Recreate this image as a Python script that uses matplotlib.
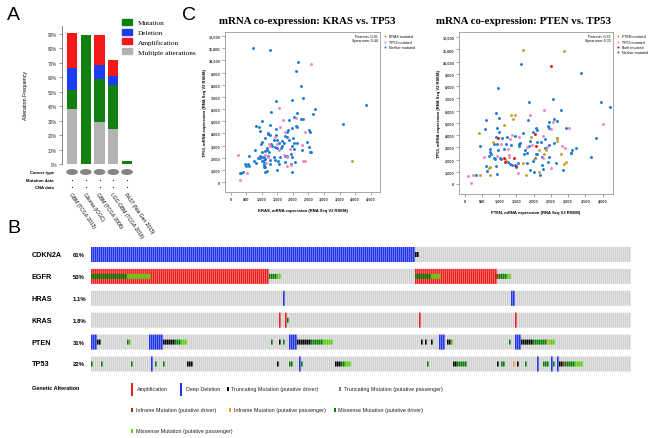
import numpy as np
import matplotlib
matplotlib.use('Agg')
import matplotlib.pyplot as plt
from matplotlib.patches import Ellipse, Rectangle, Patch

W, H = 648, 439
SANS = 'Liberation Sans'
SERIF = 'Liberation Serif'

# ---- panel A: alteration frequency per study
studies = ['GBM (TCGA 2013)', 'Glioma (ICGC)', 'GBM (TCGA 2008)',
           'LGG-GBM (TCGA 2016)', 'PAST (Nat Gen 2015)']
multiple = [38, 0, 29, 24, 0]
mutation = [13.5, 89.5, 29.6, 30.5, 1.8]
deletion = [14.7, 0, 10.2, 6.5, 0]
amplification = [24.5, 0, 20.7, 11, 0]

# ---- panel C: mRNA co-expression
kras_neither_x = [730, 1260, 2160, 2100, 2260, 2330, 1960, 1470, 1300, 4360, 3600, 2700, 2650, 2120,
                  2050, 2250, 2330, 1880, 2100, 2140, 1980, 1020, 810, 910, 950, 1470, 1260, 1280,
                  1470, 2530, 1860, 1750, 1820, 1200, 1210, 1110, 1660, 1500, 1890, 2120, 1730, 2440,
                  1010, 980, 1300, 1340, 1420, 1660, 1630, 1500, 1170, 1170, 1110, 1240, 780, 1020,
                  950, 930, 1010, 1060, 880, 1060, 1110, 1020, 1200, 590, 750, 810, 500, 570, 590,
                  450, 300, 330, 410, 1070, 1080, 1120, 1080, 1110, 1160, 1500, 1580, 1400, 1430,
                  1760, 1820, 1950, 1970, 1750, 1950, 1980, 2070, 2290, 2530, 2550, 2580, 2540, 2050,
                  1810, 1970, 2050, 1520, 1560, 2010, 1540, 1410, 1280, 1260]
kras_neither_y = [11000, 10850, 9860, 9100, 7860, 6930, 6710, 6680, 5780, 6330, 4790, 6000, 5620, 5640,
                  5320, 5200, 5150, 5120, 4630, 4520, 4470, 4990, 4580, 4490, 4190, 4380, 4680, 3860,
                  3860, 4270, 4250, 3780, 3670, 3920, 4000, 3620, 3400, 3480, 3450, 3200, 3180, 3260,
                  3320, 3120, 3150, 2930, 2850, 2990, 2790, 2820, 2790, 2600, 2550, 2440, 2630, 2470,
                  2110, 2000, 2030, 2050, 1950, 1840, 1890, 1750, 2160, 2110, 1750, 1530, 1320, 1450,
                  1320, 1510, 770, 710, 790, 1530, 1370, 1210, 1210, 790, 930, 1010, 2030, 2030, 1810,
                  2160, 2110, 2270, 2050, 1620, 1510, 790, 1670, 2600, 2880, 2490, 2490, 4080, 3230,
                  4080, 2990, 2710, 1750, 1480, 3620, 3180, 3480, 1480, 1840]
kras_tp53_x = [2590, 1540, 1690, 2090, 1590, 1420, 1270, 1240, 1500, 1540, 1900, 1730, 2300, 2330,
               2400, 2380, 1820, 1200, 240, 540, 290, 1150, 1940, 1810, 1760, 1120]
kras_tp53_y = [9670, 6050, 5120, 5290, 4550, 3730, 2990, 3150, 3120, 2600, 2710, 2220, 3010, 1700,
               1750, 4140, 2030, 2080, 2220, 710, 160, 1530, 1400, 1340, 4110, 2190]
kras_kras_x = [3910]
kras_kras_y = [1730]

pten_pten_x = [1700, 2890, 425, 1330, 1460, 1400, 1140, 810, 740, 710, 730, 1210, 1170, 1790, 2160,
               1920, 2150, 2310, 2360, 2670, 2690, 2780, 2930, 2870, 440, 2000, 1690]
pten_pten_y = [10990, 10850, 4150, 5620, 5670, 5290, 4830, 3460, 1390, 1340, 760, 1850, 2050, 740, 980,
               3850, 2780, 2450, 2780, 3520, 3790, 2450, 1770, 1610, 760, 2020, 1750]
pten_both_x = [2500, 2040, 2070, 980, 1150, 1420, 1490, 1180]
pten_both_y = [9680, 4120, 3110, 3740, 2150, 2130, 1500, 1770]
pten_tp53_x = [4020, 3010, 2300, 1880, 1300, 1270, 1380, 1050, 940, 550, 1280, 1290, 1560, 110, 170,
               240, 2270, 2400, 2510, 2550, 2810, 2900, 2510, 1940, 1820, 1570, 2280]
pten_tp53_y = [4940, 4550, 6080, 5620, 3680, 2840, 3980, 3270, 2290, 2210, 2370, 2240, 900, 680, 110,
               710, 2150, 3000, 4500, 5100, 3080, 2970, 1340, 3190, 3000, 3820, 3950]
pten_neither_x = [1620, 3380, 960, 1860, 2550, 3950, 4210, 2780, 900, 1000, 620, 1830, 2590, 2670, 2450,
                  2410, 2060, 2100, 1980, 2430, 930, 990, 900, 1090, 1230, 1470, 1680, 2940, 3230,
                  3100, 3800, 3670, 3090, 2670, 2580, 2440, 2330, 2330, 2210, 2090, 1890, 1860, 1760,
                  1820, 1720, 1600, 1570, 1570, 1350, 1200, 950, 850, 740, 720, 770, 700, 850, 880,
                  1020, 1040, 1260, 1320, 1380, 1470, 1490, 1540, 1800, 1880, 1990, 2110, 2250, 2050,
                  2070, 2240, 2270, 2640, 2840, 3070, 630, 650, 900, 930, 330, 430, 600, 970, 1150,
                  2000, 2170, 2420, 2440]
pten_neither_y = [9840, 9110, 7850, 6680, 6930, 6710, 6330, 6030, 5780, 5370, 5260, 5210, 5290, 5130,
                  5040, 4770, 4550, 4420, 4230, 4580, 4580, 4230, 3820, 3760, 3870, 3950, 4200, 4580,
                  2970, 2810, 3740, 2210, 2510, 3790, 3350, 3160, 2970, 3680, 3410, 3440, 3550, 3140,
                  2750, 2540, 2450, 3350, 3110, 3300, 3220, 3270, 3270, 3270, 2840, 2650, 2480, 2290,
                  2100, 2050, 2150, 2020, 1770, 1640, 1580, 1580, 1390, 1750, 1750, 1120, 1850, 2450,
                  2240, 2150, 2450, 1530, 1230, 1720, 1170, 2540, 1500, 1060, 1500, 790, 710, 3140,
                  4500, 2810, 2860, 950, 760, 1770, 2210]

# ---- panel B: oncoprint, runs of samples (start, end, alteration)
n_samples = 270
genes = ['CDKN2A', 'EGFR', 'HRAS', 'KRAS', 'PTEN', 'TP53']
gene_pct = ['61%', '53%', '1.1%', '1.8%', '31%', '22%']
cdkn2a = [(0, 162, 'del'), (162, 164, 'trunc')]
egfr = [(0, 89, 'amp'), (162, 203, 'amp'), (0, 18, 'mis'), (18, 30, 'mis_p'), (89, 93, 'mis'),
        (93, 95, 'mis_p'), (162, 170, 'mis'), (170, 175, 'mis_p'), (202, 204, 'inframe'),
        (204, 208, 'mis'), (208, 210, 'mis_p')]
hras = [(96, 97, 'del'), (210, 212, 'del')]
kras = [(94, 95, 'amp'), (97, 98, 'amp'), (98, 99, 'mis'), (164, 165, 'amp'), (212, 213, 'amp')]
pten = [(0, 3, 'del'), (3, 5, 'trunc'), (18, 19, 'mis'), (19, 20, 'mis_p'), (29, 36, 'del'),
        (36, 42, 'trunc'), (42, 45, 'mis'), (45, 48, 'mis_p'), (90, 91, 'mis'), (94, 95, 'trunc'),
        (96, 97, 'mis'), (99, 103, 'del'), (103, 110, 'trunc'), (110, 116, 'mis'), (116, 121, 'mis_p'),
        (165, 166, 'trunc'), (167, 168, 'trunc'), (170, 171, 'trunc'), (174, 177, 'del'),
        (178, 180, 'trunc'), (180, 181, 'mis_p'), (209, 210, 'mis'), (212, 215, 'del'),
        (215, 221, 'trunc'), (221, 228, 'mis'), (228, 229, 'inframe_p'), (229, 232, 'mis_p')]
tp53 = [(0, 1, 'mis'), (5, 6, 'mis'), (20, 21, 'mis'), (30, 31, 'del'), (32, 33, 'mis'), (36, 37, 'mis'),
        (48, 51, 'trunc'), (93, 94, 'trunc'), (99, 101, 'mis'), (104, 105, 'del'), (105, 106, 'mis'),
        (122, 125, 'trunc'), (125, 127, 'mis'), (127, 130, 'mis_p'), (168, 169, 'mis'),
        (181, 183, 'trunc'), (183, 188, 'mis'), (203, 204, 'trunc'), (205, 207, 'mis'),
        (211, 212, 'inframe_p'), (213, 214, 'trunc'), (217, 218, 'mis'), (223, 224, 'del'),
        (226, 229, 'mis'), (230, 231, 'del'), (231, 232, 'mis'), (233, 234, 'del'), (234, 236, 'trunc'),
        (236, 237, 'inframe'), (237, 242, 'mis'), (242, 246, 'mis_p')]
gene_runs = [cdkn2a, egfr, hras, kras, pten, tp53]

alt_colors = {'amp': '#f41c1c', 'del': '#1f35f2', 'trunc': '#000000', 'trunc_p': '#708090',
              'inframe': '#993404', 'inframe_p': '#fe9929', 'mis': '#008000', 'mis_p': '#53d400'}


def box(x0, y0, x1, y1):
    return [x0 / W, 1 - y1 / H, (x1 - x0) / W, (y1 - y0) / H]


def ftext(x, y, s, **kw):
    fig.text(x / W, 1 - y / H, s, **kw)


fig = plt.figure(figsize=(W / 100, H / 100), dpi=100)
fig.patch.set_facecolor('white')

# panel letters
ftext(7, 16, 'A', fontsize=14, family=SANS, va='center')
ftext(182, 16, 'C', fontsize=14, family=SANS, va='center')
ftext(7, 229, 'B', fontsize=14, family=SANS, va='center')

# ================= A =================
c_mut, c_del, c_amp, c_mult = '#118011', '#1c3cf0', '#f51818', '#b3b3b3'
axA = fig.add_axes(box(62, 27, 137, 165))
xs = np.arange(len(studies))
bottom = np.zeros(len(studies))
for vals, col in [(multiple, c_mult), (mutation, c_mut), (deletion, c_del), (amplification, c_amp)]:
    axA.bar(xs, vals, 0.73, bottom=bottom, color=col, linewidth=0)
    bottom += np.array(vals)
axA.set_xlim(-0.73, 4.73)
axA.set_ylim(0, 95.5)
for sp in ['top', 'right', 'bottom']:
    axA.spines[sp].set_visible(False)
axA.spines['left'].set_color('#555555')
axA.spines['left'].set_linewidth(0.5)
axA.set_xticks([])
axA.set_yticks(range(0, 100, 10))
axA.set_yticklabels(['%d%%' % v for v in range(0, 100, 10)], fontsize=3.3, family=SANS, color='#333333')
axA.tick_params(axis='y', length=2, width=0.4, pad=1.5, color='#555555')
ftext(26, 96, 'Alteration Frequency', rotation=90, fontsize=3.8, family=SANS, ha='center', va='center')

handles = [Patch(color=c_mut, label='Mutation'), Patch(color=c_del, label='Deletion'),
           Patch(color=c_amp, label='Amplification'), Patch(color=c_mult, label='Multiple alterations')]
fig.legend(handles=handles, loc='upper left', bbox_to_anchor=(122 / W, 1 - 20 / H),
           frameon=False, prop={'family': SERIF, 'size': 5.2}, handlelength=1.4, handleheight=0.9,
           handletextpad=0.8, labelspacing=0.45, borderpad=0, borderaxespad=0)

axR = fig.add_axes(box(62, 166, 137, 192))
axR.set_xlim(-0.73, 4.73)
axR.set_ylim(192, 166)
axR.axis('off')
for i in xs:
    axR.add_patch(Ellipse((i, 173), 0.85, 6, color='#858585', lw=0))
axR.plot(xs, [181] * len(xs), 'o', color='#222222', ms=0.9, mew=0)
axR.plot(xs, [188] * len(xs), 'o', color='#222222', ms=0.9, mew=0)
ftext(54, 173, 'Cancer type', fontsize=3.1, family=SANS, fontweight='bold', ha='right', va='center')
ftext(54, 181, 'Mutation data', fontsize=3.1, family=SANS, fontweight='bold', ha='right', va='center')
ftext(54, 188, 'CNA data', fontsize=3.1, family=SANS, fontweight='bold', ha='right', va='center')
for i, s in enumerate(studies):
    ftext(72 + 13.75 * i, 192, s, rotation=-55, rotation_mode='anchor', ha='left', va='top',
          fontsize=3.6, family=SANS)


# ================= C =================
def scatter_panel(rect, xlim, ylim, xticks, groups, order, xlabel, ylabel, stats, title, title_x):
    ax = fig.add_axes(box(*rect))
    for gx, gy, col, lab in groups:
        ax.scatter(gx, gy, s=4.5, color=col, linewidths=0, label=lab)
    ax.set_xlim(*xlim)
    ax.set_ylim(*ylim)
    ax.set_xticks(xticks)
    ax.set_xticklabels(['{:,}'.format(v) for v in xticks])
    yt = list(range(0, 13000, 1000))
    ax.set_yticks(yt)
    ax.set_yticklabels(['{:,}'.format(v) for v in yt])
    for sp in ax.spines.values():
        sp.set_color('#9a9a9a')
        sp.set_linewidth(0.6)
    ax.tick_params(length=2, width=0.4, pad=1.5, labelsize=2.8, color='#666666')
    for lab in ax.get_xticklabels() + ax.get_yticklabels():
        lab.set_family(SANS)
        lab.set_fontweight('bold')
        lab.set_color('#333333')
    ax.text(0.985, 0.985, stats, transform=ax.transAxes, ha='right', va='top', fontsize=2.6,
            family=SANS, linespacing=1.0)
    h, l = ax.get_legend_handles_labels()
    ax.legend([h[k] for k in order], [l[k] for k in order], loc='upper left',
              bbox_to_anchor=(1.01, 0.985), frameon=False, handletextpad=0.1, labelspacing=0.35,
              borderpad=0, borderaxespad=0, markerscale=0.7, prop={'family': SANS, 'size': 2.6})
    cx = (rect[0] + rect[2]) / 2
    cy = (rect[1] + rect[3]) / 2
    ftext(cx, rect[3] + 18, xlabel, fontsize=3, family=SANS, fontweight='bold', ha='center', va='center')
    ftext(rect[0] - 20, cy, ylabel, fontsize=3, family=SANS, fontweight='bold', rotation=90,
          ha='center', va='center')
    ftext(title_x, 22, title, fontsize=7.8, family=SERIF, fontweight='bold', ha='center', va='center')
    return ax


c_blue, c_pink, c_yel, c_red = '#1d7bd4', '#ee85c6', '#c9a233', '#e01616'
scatter_panel((225, 33, 380, 193), (-180, 4800), (-820, 12330), list(range(0, 5000, 500)),
              [(kras_neither_x, kras_neither_y, c_blue, 'Neither mutated'),
               (kras_tp53_x, kras_tp53_y, c_pink, 'TP53 mutated'),
               (kras_kras_x, kras_kras_y, c_yel, 'KRAS mutated')], [2, 1, 0],
              'KRAS, mRNA expression (RNA Seq V2 RSEM)', 'TP53, mRNA expression (RNA Seq V2 RSEM)',
              'Pearson: 0.36\nSpearman: 0.44', 'mRNA co-expression: KRAS vs. TP53', 307)
scatter_panel((459, 33, 613, 195), (-165, 4300), (-818, 12430), list(range(0, 4500, 500)),
              [(pten_neither_x, pten_neither_y, c_blue, 'Neither mutated'),
               (pten_tp53_x, pten_tp53_y, c_pink, 'TP53 mutated'),
               (pten_pten_x, pten_pten_y, c_yel, 'PTEN mutated'),
               (pten_both_x, pten_both_y, c_red, 'Both mutated')], [2, 1, 3, 0],
              'PTEN, mRNA expression (RNA Seq V2 RSEM)', 'TP53, mRNA expression (RNA Seq V2 RSEM)',
              'Pearson: 0.32\nSpearman: 0.33', 'mRNA co-expression: PTEN vs. TP53', 524)

# ================= B =================
axB = fig.add_axes(box(91, 246, 631, 374))
axB.set_xlim(0, n_samples)
axB.set_ylim(374, 246)
axB.axis('off')
samples = np.arange(n_samples)
for i, (gene, pct, runs) in enumerate(zip(genes, gene_pct, gene_runs)):
    yc = 255.5 + 21.9 * i
    axB.bar(samples, 15, bottom=yc - 7.5, width=0.8, align='edge', color='#d0d0d0',
            linewidth=0, snap=False)
    for s, e, kind in sorted(runs, key=lambda r: r[2] not in ('amp', 'del')):
        idx = np.arange(s, e)
        if kind in ('amp', 'del'):
            axB.bar(idx, 15, bottom=yc - 7.5, width=0.8, align='edge', color=alt_colors[kind],
                    linewidth=0, snap=False)
        else:
            axB.bar(idx, 5, bottom=yc - 2.5, width=0.8, align='edge', color=alt_colors[kind],
                    linewidth=0, snap=False)
    ftext(32, yc, gene, fontsize=5.2, family=SANS, fontweight='bold', va='center')
    ftext(73, yc, pct, fontsize=4.3, family=SANS, fontweight='bold', va='center')

# alteration legend
axL = fig.add_axes(box(0, 378, W, 439))
axL.set_xlim(0, W)
axL.set_ylim(439, 378)
axL.axis('off')
ftext(32, 389, 'Genetic Alteration', fontsize=4, family=SANS, fontweight='bold', va='center')
legend_items = [(131, 390, 'amp', 'Amplification', True), (180, 390, 'del', 'Deep Deletion', True),
                (227, 390, 'trunc', 'Truncating Mutation (putative driver)', False),
                (339, 390, 'trunc_p', 'Truncating Mutation (putative passenger)', False),
                (131, 411, 'inframe', 'Inframe Mutation (putative driver)', False),
                (229, 411, 'inframe_p', 'Inframe Mutation (putative passenger)', False),
                (334, 411, 'mis', 'Missense Mutation (putative driver)', False),
                (131, 432, 'mis_p', 'Missense Mutation (putative passenger)', False)]
for lx, ly, kind, lab, tall in legend_items:
    hh = 13 if tall else 4.5
    axL.add_patch(Rectangle((lx, ly - hh / 2), 2.3, hh, color=alt_colors[kind], lw=0))
    ftext(lx + (6 if tall else 4.5), ly, lab, fontsize=3.9, family=SANS, va='center', color='#222222')

fig.savefig('out.png', dpi=100)
